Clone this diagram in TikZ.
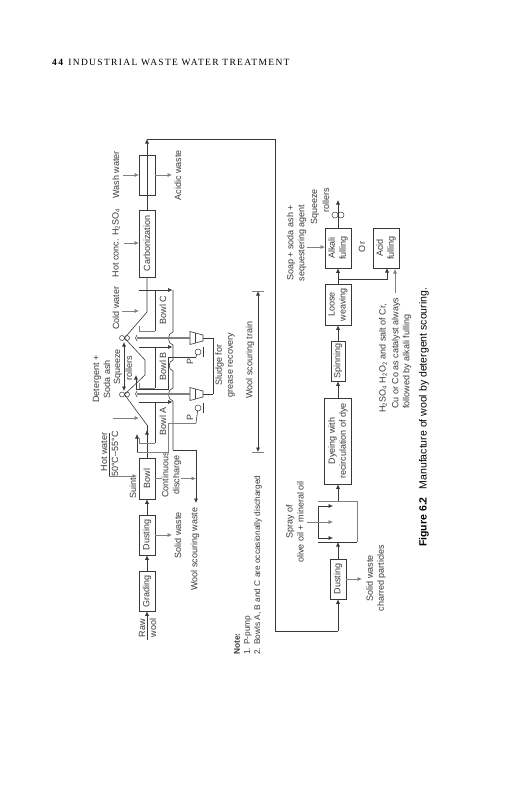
\documentclass[tikz,border=0pt]{standalone}
\usepackage{fontspec}
\usetikzlibrary{arrows.meta}
\setmainfont{Liberation Sans}
\newfontfamily\headfont[LetterSpace=14]{Liberation Serif}
\definecolor{inkc}{gray}{0.22}
\definecolor{pipec}{gray}{0.5}
\tikzset{
  txt/.style={font=\fontsize{9}{11}\selectfont,text=inkc},
  lab/.style={txt,rotate=90,align=center,inner sep=0pt},
  labw/.style={lab,anchor=west,align=left},
  unit/.style={lab,draw=inkc,line width=.6pt},
  flow/.style={draw=inkc,line width=.6pt},
  arr/.style={-{Latex[length=4.5pt,width=4pt]}},
  arrs/.style={{Latex[length=4.5pt,width=4pt]}-{Latex[length=4.5pt,width=4pt]}},
  feed/.style={draw=pipec,line width=.7pt,arr},
  pipe/.style={draw=pipec,line width=1.2pt},
  roll/.style={circle,draw=inkc,line width=.5pt,inner sep=0pt,minimum size=5pt}
}
\begin{document}
\begin{tikzpicture}[x=1pt,y=-1pt]
  \useasboundingbox (0,0) rectangle (516,800);
  \node[anchor=west,inner sep=0pt,text=black] (pagehead) at (52,62)
    {\fontsize{9.5}{11}\selectfont\headfont\textbf{44}\hspace{4pt}INDUSTRIAL WASTE WATER TREATMENT};

  % process units of the first row
  \node[unit,minimum width=40pt,minimum height=16pt] (wash) at (147,175) {};
  \node[unit,minimum width=67pt,minimum height=16pt] (carbon) at (147,243.5) {Carbonization};
  \node[unit,minimum width=41pt,minimum height=16pt] (bowl) at (147,478.5) {Bowl};
  \node[unit,minimum width=40pt,minimum height=16pt] (dustone) at (147,535) {Dusting};
  \node[unit,minimum width=40pt,minimum height=16pt] (grading) at (147,591) {Grading};

  % process units of the second row
  \node[unit,minimum width=40pt,minimum height=16pt] (dusttwo) at (338,579) {Dusting};
  \node[unit,minimum width=86pt,minimum height=27pt] (dyeing) at (338,441) {Dyeing with\\recirculation of dye};
  \node[unit,minimum width=40pt,minimum height=14pt] (spinning) at (338,361) {Spinning};
  \node[unit,minimum width=41pt,minimum height=26pt] (loose) at (338,304.5) {Loose\\weaving};
  \node[unit,minimum width=40pt,minimum height=26pt] (alkali) at (338,248) {Alkali\\fulling};
  \node[unit,minimum width=40pt,minimum height=26pt] (acid) at (386,248) {Acid\\fulling};

  % labels
  \node[lab] (lwash) at (116,175) {Wash water};
  \node[lab] (lhot) at (116,243) {Hot conc. H\textsubscript{2}SO\textsubscript{4}};
  \node[lab] (lcold) at (116,308) {Cold water};
  \node[lab] (lacidic) at (178,175) {Acidic waste};
  \node[lab] (lbowlc) at (163,310) {Bowl C};
  \node[lab] (lbowlb) at (163,366) {Bowl B};
  \node[lab] (lbowla) at (163,421) {Bowl A};
  \node[lab] (lsqueeze) at (118,367) {Squeeze};
  \node[lab] (lrollers) at (129,368) {rollers};
  \node[lab] (ldeter) at (101.5,379) {Detergent +\\Soda ash};
  \node[lab] (lsludge) at (225,365) {Sludge for\\grease recovery};
  \node[lab] (ltrain) at (250,360) {Wool scouring train};
  \node[lab] (lhotw) at (104,452) {Hot water};
  \node[lab] (ltemp) at (115,454) {50°C–55°C};
  \node[lab] (lsuint) at (133,488) {Suint};
  \node[lab] (lcont) at (171.5,475) {Continuous\\discharge};
  \node[lab] (lsolid) at (178,535) {Solid waste};
  \node[lab] (lwaste) at (195,549) {Wool scouring waste};
  \node[lab] (lraw) at (142,628) {Raw};
  \node[lab] (lwool) at (153,628) {wool};
  \node[labw,font=\fontsize{8.3}{11}\selectfont\bfseries] (lnote) at (237,655) {Note:};
  \node[labw,font=\fontsize{8.3}{11}\selectfont] (lnoteone) at (248,655) {1. P-pump};
  \node[labw,font=\fontsize{8.3}{11}\selectfont] (lnotetwo) at (258,655) {2. Bowls A, B and C are occasionally discharged};
  \node[lab] (lspray) at (295,522) {Spray of\\olive oil + mineral oil};
  \node[lab] (lchar) at (376,578) {Solid waste\\charred particles};
  \node[lab] (lsoap) at (296.5,243) {Soap + soda ash +\\sequestering agent};
  \node[lab] (lsqtwo) at (315,207) {Squeeze};
  \node[lab] (lrotwo) at (326,200) {rollers};
  \node[lab] (lor) at (362,247) {Or};
  \node[labw] (lcat) at (383,413) {H\textsubscript{2}SO\textsubscript{4} H\textsubscript{2}O\textsubscript{2} and salt of Cr,};
  \node[labw] (lcattwo) at (396,409) {Cu or Co as catalyst always};
  \node[labw] (lcatthree) at (407,409) {followed by alkali fulling};
  \node[labw,font=\fontsize{10.5}{12}\selectfont,text=black] (caption) at (424,547)
    {\textbf{Figure 6.2}\hspace{8pt}Manufacture of wool by detergent scouring.};

  % wool path along the first row
  \coordinate (rollAB) at (124.5,394.5);
  \coordinate (rollBC) at (124.5,338);
  \coordinate (rawin) at (147,640);
  \draw[flow,arr] (rawin) -- (grading.west);
  \draw[flow,arr] (grading.east) -- (dustone.west);
  \draw[flow,arr] (dustone.east) -- (bowl.west);
  \draw[flow,arr] (bowl.east) -- (147,430);
  \draw[flow] (147,425) -- (147,432);
  \draw[flow] (147,425) -- (rollAB) -- (145,375) -- (145,360) -- (rollBC) -- (147,312) -- (carbon.west);
  \draw[flow] (carbon.east) -- (wash.west);
  \draw[flow] (wash.west) -- (wash.east);
  \foreach \n/\yc in {AB/394.5,BC/338}{
    \node[roll] (rlo\n) at (122,\yc) {};
    \node[roll] (rhi\n) at (127,\yc) {};
  }
  \coordinate (squp) at (124,342);
  \coordinate (sqdn) at (124,391);
  \draw[flow,arrs] (squp) -- (sqdn);

  % return line to the second row
  \coordinate (topturn) at (147,139);
  \coordinate (farturn) at (275,139);
  \coordinate (lowturn) at (275,631);
  \coordinate (backin) at (338,631);
  \draw[flow] (topturn) -- (farturn) -- (lowturn) -- (backin);
  \draw[flow,arr] (backin) -- (dusttwo.west);
  \draw[flow,arr] (wash.east) -- (topturn);

  % bowls with their drains to the header
  \foreach \n/\yt in {C/290,B/347,A/402}{
    \coordinate (bw\n) at (139,\yt);
    \coordinate (bd\n) at (172.5,\yt);
    \draw[flow,arr] (bw\n) -- (bd\n);
    \draw[flow] (155,\yt) -- (155,\yt+41);
    \draw[pipe,line width=1pt] (155,\yt+41) -- (139,\yt+41) -- (139,\yt+36);
  }

  % header, it steps aside at each crossing
  \coordinate (hdrend) at (173,450);
  \coordinate (wasteturn) at (196,450);
  \coordinate (wasteend) at (196,503);
  \draw[flow] (173,290) -- (173,332) .. controls (167,333) and (167,344) .. (173,345)
    -- (173,360) .. controls (168,361) and (168,370) .. (173,371)
    -- (173,388) .. controls (167,389) and (167,400) .. (173,401) -- (hdrend);
  \draw[flow] (hdrend) -- (wasteturn);
  \draw[flow,arr] (wasteturn) -- (wasteend);

  % pumps with sludge line and recycle
  \foreach \n/\yc/\yr in {B/338/357,A/394/423}{
    \node[circle,draw=inkc,line width=.5pt,inner sep=0pt,minimum size=6pt] (pump\n) at (198,\yc+14) {};
    \node[lab] (lp\n) at (190,\yc+23) {P};
    \draw[flow] (203,\yc+9) -- (203,\yc+19);
    \draw[flow,fill=white] (190,\yc-6.5) -- (203,\yc-3) -- (203,\yc+3) -- (190,\yc+6.5) -- cycle;
    \draw[flow] (195,\yc-5) -- (195,\yc+5);
    \draw[pipe] (137,\yc) -- (190,\yc);
    \draw[flow] (137,\yc-3) .. controls (135,\yc-1) and (135,\yc+1) .. (137,\yc+3);
    \draw[flow] (203,\yc) -- (213,\yc);
    \draw[flow] (pump\n) -- (196,\yr);
  }
  \draw[flow] (213,338) -- (213,394);
  \draw[flow] (196,357) -- (168,357) -- (168,389) -- (136,389);
  \draw[flow,arr] (136,389) -- (136,375);
  \draw[pipe,line width=.8pt] (196,423) -- (168,423) -- (168,452) -- (137,452);
  \draw[flow,arr] (137,452) -- (137,434);

  % inputs and outputs of the first row
  \draw[feed] (123,175) -- (139,175);
  \draw[feed] (124,243) -- (139,243);
  \draw[feed] (122,311) -- (139,311);
  \draw[feed] (113,418) -- (139,418);
  \draw[feed] (wash.south) -- (172,175);
  \draw[feed] (dustone.south) -- (172,535);
  \coordinate (hotcorner) at (109,476);
  \draw[flow] (109,433) -- (hotcorner);
  \draw[feed] (hotcorner) -- (137,476);
  \draw[pipe,line width=.7pt] (bowl.south) -- (bowl.south -| lcont.north);
  \draw[feed] (bowl.south -| lcont.south) -- (bowl.south -| wasteend);

  % wool scouring train span
  \coordinate (trainup) at (258,291);
  \coordinate (traindn) at (258,452);
  \draw[flow,arrs] (trainup) -- (traindn);
  \draw[pipe,line width=.8pt] (252,291) -- (264,291);
  \draw[pipe,line width=.8pt] (252,452) -- (264,452);

  % second row
  \coordinate (raindown) at (338,542);
  \coordinate (rainup) at (338,501);
  \draw[pipe,line width=1pt] (318,501) -- (357,501) -- (357,542);
  \draw[flow] (357,542) -- (318,542);
  \draw[flow] (318,506) -- (318,538);
  \draw[flow,arr] (dusttwo.east) -- (raindown);
  \draw[flow,arr] (rainup) -- (dyeing.west);
  \foreach \yy in {506,538}{
    \draw[flow,arr] (318,\yy) -- (333,\yy);
  }
  \draw[feed] (307,522) -- (333,522);
  \draw[feed] (dusttwo.south) -- (362,579);
  \draw[flow,arr] (dyeing.east) -- (spinning.west);
  \draw[flow,arr] (spinning.east) -- (loose.west);
  \draw[flow,arr] (loose.east) -- (alkali.west);
  \coordinate (branch) at (338,279);
  \draw[flow,arr] (branch) -- (387,279) -- (387,268);
  \draw[feed] (395,293) -- (395,269);
  \draw[feed] (307,247) -- (325,247);
  \node[roll,minimum size=6pt] (rlast) at (335,215) {};
  \node[roll,minimum size=6pt] (rlasttwo) at (341,215) {};
  \draw[flow,arr] (alkali.east) -- (338,200);
\end{tikzpicture}
\end{document}
